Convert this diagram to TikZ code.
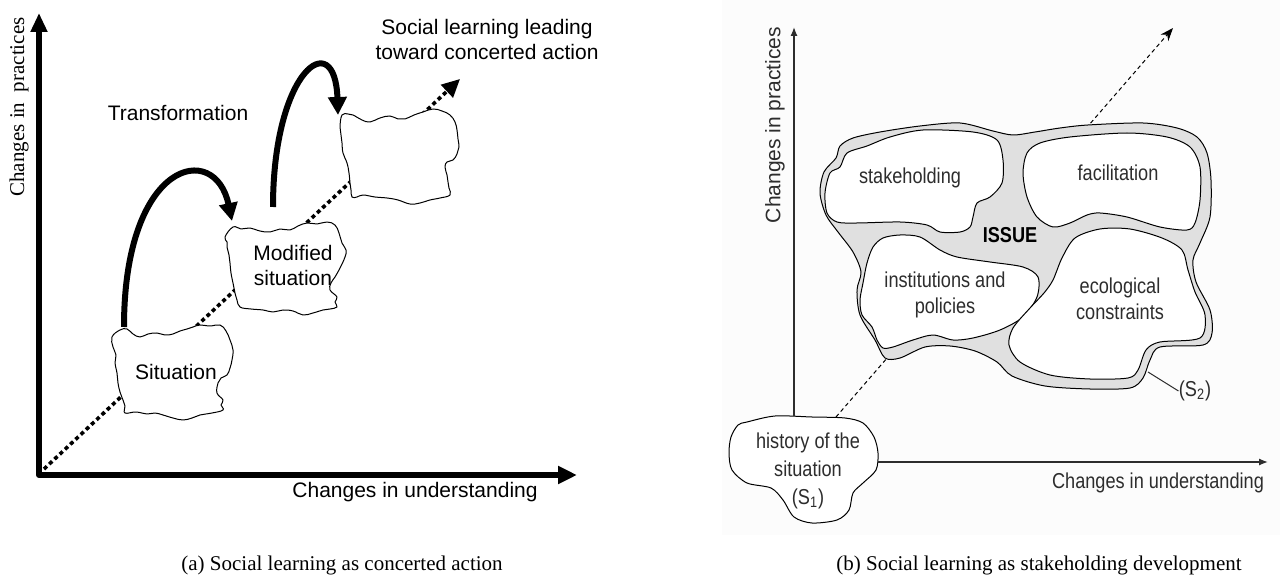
\documentclass[tikz,border=0pt]{standalone}
\usepackage{fontspec}
\setmainfont{Liberation Serif}
\setsansfont{Liberation Sans}
\newfontfamily\narrowsf[FakeStretch=0.84]{Liberation Sans}
\usetikzlibrary{arrows.meta}
\definecolor{issuegray}{RGB}{224,224,224}
\definecolor{inkgray}{RGB}{45,45,45}

\begin{document}
\begin{tikzpicture}[x=0.5pt, y=-0.5pt, line join=round]
  \tikzstyle{lbl}=[font=\sffamily\fontsize{10.5}{12.5}\selectfont, align=center, inner sep=0pt]
  \tikzstyle{rlbl}=[font=\narrowsf\fontsize{10.8}{13}\selectfont, text=inkgray, align=center, inner sep=0pt]
  \tikzstyle{captext}=[font=\rmfamily\fontsize{10.5}{12.5}\selectfont, inner sep=0pt]
  \tikzstyle{bigaxis}=[line width=3pt, {Triangle[length=9.5pt,width=8pt]}-{Triangle[length=9.5pt,width=8.5pt]}]
  \tikzstyle{jump}=[line width=3pt, -{Triangle[length=9pt,width=9pt]}]
  \tikzstyle{trail}=[line width=1.8pt, dash pattern=on 2pt off 1.6pt, -{Triangle[length=9pt,width=8.5pt]}]
  \tikzstyle{puff}=[draw=black, fill=white, line width=0.5pt]
  \tikzstyle{thinaxis}=[draw=inkgray, line width=0.65pt, -{Latex[length=4.5pt,width=3.5pt]}]
  \tikzstyle{zone}=[draw=black, line width=0.5pt, fill=issuegray]
  \tikzstyle{part}=[draw=black, line width=0.5pt, fill=white]
  \useasboundingbox (0,0) rectangle (1280,577);

  % ---------- (a) social learning as concerted action ----------
  \coordinate (O)     at (39,475);
  \coordinate (ytop)  at (39,13);
  \coordinate (xend)  at (577,475);
  \coordinate (tr0)   at (44,469);
  \coordinate (trend) at (460,79);
  \draw[bigaxis] (ytop) -- (O) -- (xend);
  \draw[trail] (tr0) -- (trend);

  \draw[puff] plot[smooth cycle, tension=0.7] coordinates {(120,330) (127,329) (133,334) (140,337) (148,334) (157,333) (165,335) (173,334) (180,331) (187,329)
     (193,327) (200,325) (210,326) (220,325) (226,331) (230,340) (233,350) (232,360) (230,368) (227,375) (221,378) (218,383) (217,393) (223,400) (221,405) (223,410)
     (212,413) (200,415) (192,418) (183,420) (173,418) (163,415) (155,413) (147,414) (136,412) (125,413) (125,406) (123,400) (120,392) (118,383) (117,373) (115,363) (116,355) (113,347) (112,337)};
  \draw[puff] plot[smooth cycle, tension=0.7] coordinates {(233,227) (241,229) (250,228) (260,231) (270,232) (280,229) (290,230) (298,226) (307,223) (317,224) (327,222)
     (335,225) (339,233) (342,243) (346,250) (345,257) (340,268) (335,277) (331,283) (330,290) (337,297) (335,302) (337,307) (330,309) (323,310) (313,313) (303,315)
     (293,311) (283,310) (273,312) (263,310) (251,309) (240,307) (237,300) (235,293) (234,288) (233,283) (231,273) (230,263) (229,255) (227,247) (227,242) (225,237)};
  \draw[puff] plot[smooth cycle, tension=0.7] coordinates {(342,115) (348,114) (353,115) (362,120) (370,122) (380,118) (390,116) (398,119) (405,119) (414,115) (423,112)
     (433,109) (442,111) (450,115) (455,122) (457,130) (458,139) (459,147) (457,154) (453,160) (447,162) (445,167) (447,175) (448,182) (449,188) (450,195) (440,198) (430,200)
     (420,203) (410,204) (398,200) (387,198) (375,197) (363,195) (357,197) (352,197) (351,190) (350,183) (349,173) (347,163) (343,153) (342,143) (341,135) (340,127)};

  \node[lbl] (sit)   at (176,372) {Situation};
  \node[lbl] (mod)   at (293,265) {Modified\\situation};
  \node[lbl] (trans) at (178,113) {Transformation};
  \node[lbl] (goal)  at (487,39)  {Social learning leading\\toward concerted action};
  \node[lbl] (xlab)  at (415,492) {Changes in understanding};
  \node[captext, rotate=90] (ylab) at (19,107) {Changes in\ \ practices};
  \node[captext] (capa)  at (342,565) {(a) Social learning as concerted action};

  \coordinate (j1s) at (124,327);
  \coordinate (j1e) at (232,221);
  \coordinate (j2s) at (273,207);
  \coordinate (j2e) at (338,115);
  \draw[jump] (j1s) .. controls (124,160) and (215,140) .. (j1e);
  \draw[jump] (j2s) .. controls (273,70) and (335,25) .. (j2e);

  % ---------- (b) social learning as stakeholding development ----------
  \fill[black!1] (722,0) rectangle (1280,535);
  \coordinate (h0)   at (836,417);
  \coordinate (hend) at (1173,28);
  \draw[line width=0.5pt, dash pattern=on 2pt off 1.6pt, -{Stealth[length=6.5pt,width=5pt]}] (h0) -- (hend);

  \draw[zone] plot[smooth cycle] coordinates {(820,193) (824,172) (836,158) (840,146) (853,138) (880,132)
     (920,126) (960,123) (993,131) (1013,135) (1035,132) (1060,128) (1088,125) (1143,123) (1177,128)
     (1197,137) (1207,153) (1211,180) (1210,217) (1200,243) (1193,260) (1196,282) (1210,310) (1212,333)
     (1203,345) (1160,347) (1150,360) (1143,378) (1130,388) (1090,389) (1045,386) (1012,376) (997,362)
     (975,351) (950,346) (925,347) (900,358) (885,358) (875,340) (860,315) (857,290) (861,272)
     (853,252) (838,232) (826,215)};
  \draw[part] plot[smooth cycle] coordinates {(825,193) (830,173) (840,167) (847,153) (867,146) (890,137)
     (923,130) (973,132) (997,140) (1003,160) (1002,183) (990,197) (977,203) (973,217) (970,227)
     (960,232) (940,232) (927,225) (900,222) (857,223) (837,222) (827,213)};
  \draw[part] plot[smooth cycle] coordinates {(1023,173) (1027,153) (1040,143) (1070,137) (1127,133)
     (1167,137) (1190,147) (1200,167) (1200,200) (1195,223) (1187,230) (1160,227) (1127,217)
     (1100,213) (1087,215) (1070,223) (1053,227) (1037,217) (1027,197)};
  \draw[part] plot[smooth cycle] coordinates {(867,263) (873,247) (883,238) (900,235) (920,237) (940,250)
     (957,257) (990,262) (1023,267) (1038,277) (1037,297) (1023,317) (1000,330) (973,338) (953,340)
     (933,335) (913,340) (893,347) (883,348) (877,340) (872,327) (862,315) (860,300) (863,283)};
  \draw[part] plot[smooth cycle] coordinates {(1053,280) (1062,258) (1075,238) (1100,229) (1130,229)
     (1162,238) (1182,250) (1188,270) (1195,292) (1205,315) (1200,338) (1160,342) (1146,350)
     (1138,370) (1128,378) (1090,379) (1050,375) (1020,362) (1009,345) (1013,328) (1030,308) (1044,293)};
  \draw[part] plot[smooth cycle] coordinates {(747,422) (775,416) (812,417) (845,418) (863,423) (874,437)
     (878,453) (876,470) (863,483) (853,493) (849,510) (837,520) (812,523) (794,517) (783,500)
     (771,488) (747,483) (732,470) (729,453) (731,437) (738,425)};

  \coordinate (yb)  at (794,416);
  \coordinate (yt)  at (794,27);
  \coordinate (xb)  at (878,462);
  \coordinate (xt)  at (1268,462);
  \draw[thinaxis] (yb) -- (yt);
  \draw[thinaxis] (xb) -- (xt);

  \node[rlbl] (stake) at (910,178)  {stakeholding};
  \node[rlbl] (facil) at (1118,173) {facilitation};
  \node[rlbl, font=\narrowsf\bfseries\fontsize{10.8}{13}\selectfont, text=black] (issue) at (1010,235) {ISSUE};
  \node[rlbl] (inst)  at (945,295)  {institutions and\\policies};
  \node[rlbl] (eco)   at (1120,299) {ecological\\constraints};
  \node[rlbl, font=\narrowsf\fontsize{10.8}{14}\selectfont] (hist) at (808,471) {history of the\\situation\\(S\textsubscript{1})};
  \node[rlbl] (s2)    at (1195,391) {(S\textsubscript{2})};
  \coordinate (s2a) at (1148,372);
  \draw[inkgray, line width=0.5pt] (s2a) -- (s2.west);
  \node[rlbl, font=\sffamily\fontsize{10.5}{13}\selectfont, rotate=90] (ylab2) at (775,125) {Changes in practices};
  \node[rlbl] (xlab2) at (1158,483) {Changes in understanding};
  \node[captext] (capb)   at (1039,565) {(b) Social learning as stakeholding development};
\end{tikzpicture}
\end{document}
